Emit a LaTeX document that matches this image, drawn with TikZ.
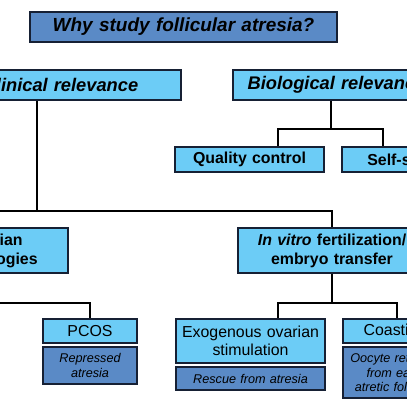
\documentclass[tikz,border=0pt]{standalone}
\usepackage{fontspec}
\setmainfont{Liberation Sans}
\usetikzlibrary{calc}
\newcommand{\pxu}{0.025cm}
\definecolor{lightbox}{RGB}{108,204,246}
\definecolor{darkbox}{RGB}{90,138,198}
\definecolor{boxline}{RGB}{22,32,52}
\tikzset{
  bx/.style 2 args={draw=boxline, line width=1.15pt, inner sep=0pt, align=center,
    minimum width=#1*\pxu, minimum height=#2*\pxu, text width=#1*\pxu},
  lbox/.style={fill=lightbox},
  dbox/.style={fill=darkbox},
  conn/.style={line width=1pt, black}
}
\begin{document}
\begin{tikzpicture}[x=0.025cm, y=-0.025cm]
    % 画布范围：407 x 407
    \useasboundingbox (0,0) rectangle (407,407);
    \clip (0,0) rectangle (407,407);
    % 标题
    \node[bx={307}{30}, dbox, font=\fontsize{13.5}{16}\selectfont\bfseries\itshape] (title) at (183.5,27) {Why study follicular atresia?};
    % 第一层
    \node[bx={241}{30}, lbox, font=\fontsize{13}{15}\selectfont\bfseries\itshape] (clin) at (60.5,85) {Clinical relevance};
    \node[bx={207}{30}, lbox, font=\fontsize{13}{15}\selectfont\bfseries\itshape] (bio) at (336.5,85) {Biological relevance};
    % 第二层
    \node[bx={149}{25}, lbox, font=\fontsize{11.3}{13.5}\selectfont\bfseries] (qc) at (249.5,159.5) {Quality control};
    \node[bx={154}{25}, lbox, font=\fontsize{11.3}{13.5}\selectfont\bfseries] (self) at (419,159.5) {Self-selection};
    \node[bx={150}{45}, lbox, font=\fontsize{11.3}{13.5}\selectfont\bfseries] (ovar) at (-7,250.5) {Ovarian\\pathologies};
    \node[bx={188}{45}, lbox, font=\fontsize{11.3}{13.5}\selectfont\bfseries] (ivf) at (332,250.5) {\textit{In vitro} fertilization/\\embryo transfer};
    % 第三层
    \node[bx={94}{24}, lbox, font=\fontsize{11.3}{13}\selectfont] (pcos) at (90,331) {PCOS};
    \node[bx={94}{37}, dbox, font=\fontsize{9}{10}\selectfont\itshape] (rep) at (90,365.5) {Repressed\\atresia};
    \node[bx={149}{44}, lbox, font=\fontsize{11.3}{13}\selectfont] (exo) at (250.5,341) {Exogenous ovarian\\stimulation};
    \node[bx={149}{23}, dbox, font=\fontsize{9}{10}\selectfont\itshape] (resc) at (250.5,378.5) {Rescue from atresia};
    \node[bx={104}{24}, lbox, font=\fontsize{11.3}{13}\selectfont] (coast) at (395,331) {Coasting};
    \node[bx={104}{51}, dbox, font=\fontsize{9}{10}\selectfont\itshape] (ooc) at (395,372.5) {Oocyte retrieval\\from early\\atretic follicles};
    % 连线
    \coordinate (jcl) at ($(clin.south)+(-23.5,110)$);
    \draw[conn] (clin.south -| jcl) -- (jcl);
    \draw[conn] (ovar.north) |- (jcl) -| (ivf.north);
    \draw[conn] ($(bio.south)+(-5.5,0)$) -- ++(0,28) coordinate (jbio);
    \draw[conn] ($(qc.north)+(28.5,0)$) |- (jbio) -| ($(self.north)+(-36,0)$);
    \draw[conn] (ovar.south) -- ++(0,29) -| (pcos.north);
    \draw[conn] (ivf.south) -- ++(0,29) coordinate (jivf);
    \draw[conn] ($(exo.north)+(27.5,0)$) |- (jivf) -| ($(coast.north)+(2,0)$);
\end{tikzpicture}
\end{document}
